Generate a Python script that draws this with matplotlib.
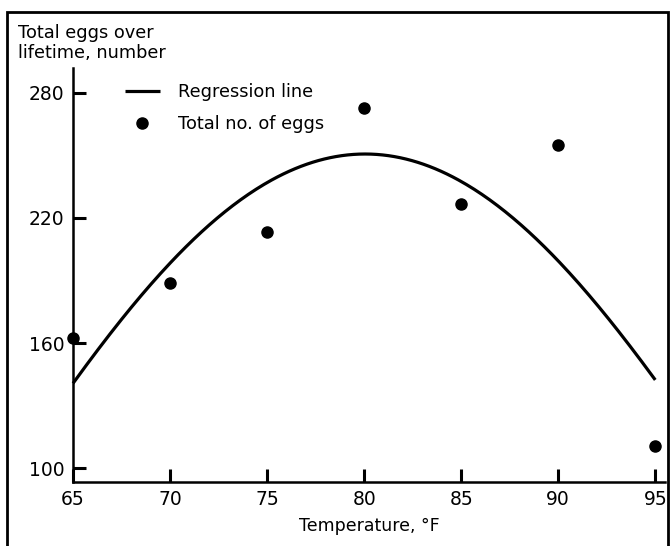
import numpy as np
import matplotlib
matplotlib.use("Agg")
import matplotlib.pyplot as plt
from matplotlib.patches import Rectangle

# measured egg totals
temps = [65, 70, 75, 80, 85, 90, 95]
eggs = [162.6, 188.9, 213.1, 272.8, 226.5, 254.8, 110.8]

# regression line, every 2.5 F
curve_t = [65, 67.5, 70, 72.5, 75, 77.5, 80, 80.5, 82.5, 85, 87.5, 90, 92.5, 95]
curve_v = [139.1, 173.5, 200.6, 219.0, 233.4, 245.3, 252.3, 252.5, 248.6, 238.2,
           219.0, 199.0, 172.7, 142.7]

xticks = [65, 70, 75, 80, 85, 90, 95]
yticks = [100, 160, 220, 280]

plt.rcParams['font.family'] = ['DejaVu Sans']

fig = plt.figure(figsize=(6.7, 5.46), dpi=100)
ax = fig.add_axes([0.109, 0.118, 0.8835, 0.7575])

# smooth the read-off regression curve
coef = np.polyfit(curve_t, curve_v, 4)
tt = np.linspace(curve_t[0], curve_t[-1], 300)
line, = ax.plot(tt, np.polyval(coef, tt), color="black", lw=2.3,
                solid_capstyle="butt", label="Regression line", clip_on=False)
dots, = ax.plot(temps, eggs, "o", color="black", ms=8, ls="none",
                label="Total no. of eggs", clip_on=False)

ax.set_xlim(65, 95.5)
ax.set_ylim(93.6, 291.8)
ax.set_xticks(xticks)
ax.set_yticks(yticks)
ax.tick_params(direction="in", length=9.5, width=2.2, labelsize=13.5, pad=6)
for s in ["top", "right"]:
    ax.spines[s].set_visible(False)
for s in ["left", "bottom"]:
    ax.spines[s].set_linewidth(1.8)

ax.set_xlabel("Temperature, °F", fontsize=12.5, labelpad=6)
fig.text(18 / 670, 1 - 24 / 546, "Total eggs over\nlifetime, number",
         fontsize=12.8, ha="left", va="top", linespacing=1.15)

ax.legend(handles=[line, dots], loc="upper left", bbox_to_anchor=(0.06, 1.003),
          frameon=False, fontsize=12.8, handlelength=2.0, handletextpad=1.0,
          labelspacing=0.8)

# frame round the whole figure
fig.patches.append(Rectangle((7 / 670, -0.1), 661 / 670, 1.1 - 12 / 546,
                             transform=fig.transFigure, fill=False,
                             edgecolor="black", lw=2.0))

fig.savefig("out.png", dpi=100)
